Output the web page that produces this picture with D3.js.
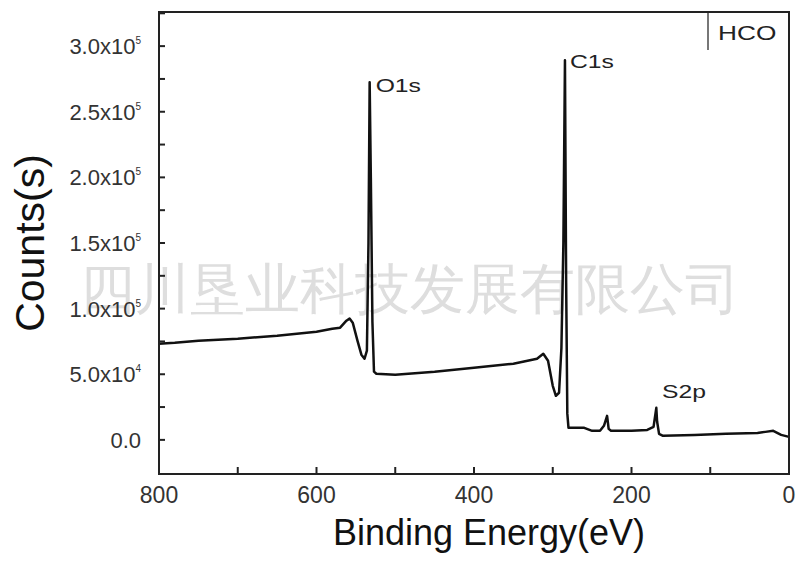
<!DOCTYPE html>
<html>
<head>
<meta charset="utf-8">
<script src="https://cdn.jsdelivr.net/npm/d3@7"></script>
<style>
body{margin:0;background:#fff;}
svg{display:block;}
text{font-family:Arial,"Liberation Sans",sans-serif;}
</style>
</head>
<body>
<div id="chart"></div>
<script>
// Binding energy (eV) and counts
const energy = [800,780,750,700,650,600,580,570,562,558,554,548,543,539,536,534,532.5,531,529,527,524,500,450,400,350,320,312,306,300,296,292,289,286.5,284.5,283,281.5,280,260,250,240,235,231,229,226,200,180,172,168.5,167.5,165,160,120,80,40,30,20,10,0];
const counts = [73300,74000,75600,77100,79400,82400,84700,85500,90800,92400,89300,75600,64900,61800,68000,150000,272500,200000,90000,52000,50400,49600,51900,55000,58000,61800,65600,60300,41200,33600,35900,70000,150000,289300,120000,20000,9200,9200,6900,6900,10700,18300,8400,6900,6900,7600,9900,24400,14000,4600,3100,3800,4600,5300,6100,6900,3800,2300];
const peakLabels = ["O1s","C1s","S2p"];
const peakEnergy = [532.5,284.5,167.5];
const peakCounts = [272500,289300,24400];
const xTicks = [800,600,400,200,0];
const yTicks = [0,50000,100000,150000,200000,250000,300000];
const yTickMantissa = ["0.0","5.0","1.0","1.5","2.0","2.5","3.0"];
const yTickExp = ["","4","5","5","5","5","5"];
const legendLabel = "HCO";
const watermark = "四川垦业科技发展有限公司";

const W=800,H=561;
const L=159,R=789,T=12,B=474;
const svg=d3.select("#chart").append("svg").attr("width",W).attr("height",H);

const x=d3.scaleLinear().domain([800,0]).range([L,R]);
const y=d3.scaleLinear().domain([-26000,326000]).range([B,T]);

// watermark
svg.append("text").attr("x",410).attr("y",308).attr("text-anchor","middle")
  .attr("font-family","'Noto Sans CJK SC',sans-serif").attr("font-size",55)
  .attr("fill","#d6d6d6").attr("opacity",0.8)
  .text(watermark);

// ticks
const g=svg.append("g");
d3.range(0,801,100).forEach(v=>{
  g.append("line").attr("x1",x(v)).attr("x2",x(v)).attr("y1",B).attr("y2",B-7).attr("stroke","#222").attr("stroke-width",2);
});
d3.range(0,325001,25000).forEach(v=>{
  g.append("line").attr("x1",L).attr("x2",L+6).attr("y1",y(v)).attr("y2",y(v)).attr("stroke","#222").attr("stroke-width",2);
});

// x tick labels
xTicks.forEach(v=>{
  svg.append("text").attr("x",x(v)).attr("y",503).attr("text-anchor","middle")
   .attr("font-size",23).attr("fill","#333").text(v);
});
// y tick labels
yTicks.forEach((v,i)=>{
  const t=svg.append("text").attr("x",141).attr("y",y(v)+8).attr("text-anchor","end")
   .attr("font-size",22).attr("fill","#333");
  if(yTickExp[i]===""){t.text(yTickMantissa[i]);}
  else{
    t.append("tspan").text(yTickMantissa[i]+"x10");
    t.append("tspan").attr("dy",-10).attr("font-size",10).text(yTickExp[i]);
  }
});

// axis titles
svg.append("text").attr("x",489).attr("y",545).attr("text-anchor","middle")
  .attr("font-size",36).attr("fill","#111").text("Binding Energy(eV)");
svg.append("text").attr("transform","translate(44,243) rotate(-90)").attr("text-anchor","middle")
  .attr("font-size",41).attr("fill","#111").text("Counts(s)");

// data line
const data=energy.map((e,i)=>[e,counts[i]]);
svg.append("path").datum(data)
  .attr("d",d3.line().x(d=>x(d[0])).y(d=>y(d[1])))
  .attr("fill","none").attr("stroke","#111").attr("stroke-width",2.5).attr("stroke-linejoin","round");

// peak labels
const lblDx=[6,5,5], lblDy=[10,8,-10];
peakLabels.forEach((s,i)=>{
  svg.append("text").attr("transform",`translate(${x(peakEnergy[i])+lblDx[i]},${y(peakCounts[i])+lblDy[i]}) scale(1.3,1)`)
    .attr("font-size",19).attr("fill","#222").text(s);
});

// legend
svg.append("line").attr("x1",708).attr("x2",708).attr("y1",T).attr("y2",50).attr("stroke","#777").attr("stroke-width",2);
svg.append("text").attr("transform","translate(718,40) scale(1.25,1)").attr("font-size",21).attr("fill","#222").text(legendLabel);

// frame
svg.append("rect").attr("x",L).attr("y",T).attr("width",R-L).attr("height",B-T)
  .attr("fill","none").attr("stroke","#222").attr("stroke-width",2);
</script>
</body>
</html>
